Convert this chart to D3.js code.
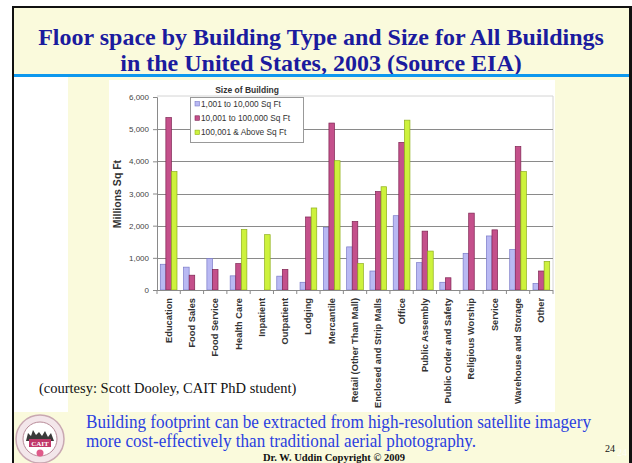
<!DOCTYPE html>
<html>
<head>
<meta charset="utf-8">
<script src="https://cdn.jsdelivr.net/npm/d3@7"></script>
<style>
  html, body { margin: 0; padding: 0; background: #ffffff; }
  svg { display: block; }
</style>
</head>
<body>
<div id="slide"></div>
<script>
// Building types (x categories)
const categories = [
  "Education", "Food Sales", "Food Service", "Health Care", "Inpatient",
  "Outpatient", "Lodging", "Mercantile", "Retail (Other Than Mall)",
  "Enclosed and Strip Malls", "Office", "Public Assembly",
  "Public Order and Safety", "Religious Worship", "Service",
  "Warehouse and Storage", "Other"
];

// Size classes (legend)
const seriesNames = ["1,001 to 10,000 Sq Ft", "10,001 to 100,000 Sq Ft", "100,001 & Above Sq Ft"];

// Floor space, millions of square feet
const smallBuildings  = [800, 710, 980, 440, 0, 430, 240, 1940, 1340, 590, 2310, 850, 240, 1140, 1680, 1260, 200];
const mediumBuildings = [5360, 460, 640, 820, 0, 640, 2270, 5190, 2130, 3060, 4590, 1830, 380, 2390, 1870, 4460, 590];
const largeBuildings  = [3680, 0, 0, 1880, 1720, 0, 2550, 4020, 820, 3210, 5280, 1210, 0, 0, 0, 3680, 890];

// Y axis ticks
const yTicks = [0, 1000, 2000, 3000, 4000, 5000, 6000];

const seriesValues = [smallBuildings, mediumBuildings, largeBuildings];
const fills   = ["#b9b9f3", "#c4508b", "#cdf23c"];
const strokes = ["#7a7ac8", "#7e2452", "#8fae1c"];

const W = 632, H = 463;
const svg = d3.select("#slide").append("svg").attr("width", W).attr("height", H);

// ---- slide frame ----
svg.append("rect").attr("x", 0).attr("y", 0).attr("width", W).attr("height", H).attr("fill", "#ffffff");
svg.append("rect").attr("x", 13).attr("y", 7).attr("width", 617).attr("height", H - 7).attr("fill", "#fafadc");
svg.append("rect").attr("x", 12).attr("y", 6).attr("width", 620).attr("height", 2).attr("fill", "#111");
svg.append("rect").attr("x", 12).attr("y", 6).attr("width", 2).attr("height", H - 6).attr("fill", "#111");
svg.append("rect").attr("x", 629).attr("y", 6).attr("width", 3).attr("height", H - 6).attr("fill", "#111");

// white panels behind caption and chart
svg.append("rect").attr("x", 14).attr("y", 77).attr("width", 54).attr("height", 335).attr("fill", "#ffffff");
svg.append("rect").attr("x", 109).attr("y", 80).attr("width", 446).attr("height", 332).attr("fill", "#ffffff");

// the chart is cropped to its white panel
svg.append("defs").append("clipPath").attr("id", "panel-clip")
  .append("rect").attr("x", 109).attr("y", 80).attr("width", 446).attr("height", 332);

// title
const title = svg.append("g")
  .attr("font-family", "'Liberation Serif', 'Times New Roman', serif")
  .attr("font-weight", "bold")
  .attr("font-size", 24)
  .attr("fill", "#1b1b9e")
  .attr("text-anchor", "middle");
title.append("text").attr("x", 321).attr("y", 45).text("Floor space by Building Type and Size for All Buildings");
title.append("text").attr("x", 321).attr("y", 71).text("in the United States, 2003 (Source EIA)");

// blue rule under the title
svg.append("rect").attr("x", 14).attr("y", 74).attr("width", 615).attr("height", 3).attr("fill", "#0e98ee");

// ---- chart ----
const plot = { left: 157, right: 553, top: 96, bottom: 290 };

const x0 = d3.scaleBand().domain(categories).range([plot.left, plot.right]).padding(0);
const x1 = d3.scaleBand().domain(d3.range(seriesValues.length))
  .range([3.3, x0.bandwidth() - 3.3]).padding(0);
const y = d3.scaleLinear().domain([0, 6000]).range([plot.bottom, plot.top + 1]);

const chart = svg.append("g").attr("clip-path", "url(#panel-clip)");

// plot border (top/right)
chart.append("path")
  .attr("d", `M${plot.left},${plot.top}H${plot.right}V${plot.bottom}`)
  .attr("fill", "none").attr("stroke", "#d4d4d4").attr("stroke-width", 1);

// gridlines
chart.append("g").selectAll("line")
  .data(yTicks.filter(d => d > 0 && d < 6000))
  .join("line")
  .attr("x1", plot.left).attr("x2", plot.right)
  .attr("y1", d => Math.round(y(d)) + 0.5).attr("y2", d => Math.round(y(d)) + 0.5)
  .attr("stroke", "#8a8a8a").attr("stroke-width", 1);

// bars
const groups = chart.append("g").selectAll("g")
  .data(categories)
  .join("g")
  .attr("transform", d => `translate(${x0(d)},0)`);

groups.selectAll("rect")
  .data((d, i) => seriesValues.map((vals, s) => ({ s, v: vals[i] })))
  .join("rect")
  .filter(d => d.v > 0)
  .attr("x", d => x1(d.s))
  .attr("y", d => y(d.v))
  .attr("width", x1.bandwidth())
  .attr("height", d => y(0) - y(d.v))
  .attr("fill", d => fills[d.s])
  .attr("stroke", d => strokes[d.s])
  .attr("stroke-width", 0.7);

// y axis
const yAxis = d3.axisLeft(y).tickValues(yTicks).tickSize(4).tickPadding(4)
  .tickFormat(d3.format(","));
const yg = chart.append("g").attr("transform", `translate(${plot.left},0)`).call(yAxis);
yg.select(".domain").attr("stroke", "#8a8a8a");
yg.selectAll(".tick line").attr("stroke", "#8a8a8a");
yg.selectAll("text")
  .attr("font-family", "'Liberation Sans', Arial, sans-serif")
  .attr("font-size", 8).attr("fill", "#444");

// x axis baseline with category boundary ticks
const xg = chart.append("g").attr("transform", `translate(0,${plot.bottom})`);
xg.append("line").attr("x1", plot.left).attr("x2", plot.right).attr("y1", 0.5).attr("y2", 0.5)
  .attr("stroke", "#8a8a8a");
xg.selectAll("line.tk")
  .data(categories.concat(["end"]))
  .join("line").attr("class", "tk")
  .attr("x1", (d, i) => plot.left + i * x0.step())
  .attr("x2", (d, i) => plot.left + i * x0.step())
  .attr("y1", 0).attr("y2", 4).attr("stroke", "#8a8a8a");

// rotated category labels
xg.selectAll("text")
  .data(categories)
  .join("text")
  .attr("transform", d => `translate(${x0(d) + x0.bandwidth() / 2 + 3},8) rotate(-90)`)
  .attr("text-anchor", "end")
  .attr("font-family", "'Liberation Sans', Arial, sans-serif")
  .attr("font-size", 9.3).attr("font-weight", "bold").attr("fill", "#333")
  .text(d => d);

// y axis title
chart.append("text")
  .attr("transform", `translate(121,194) rotate(-90)`)
  .attr("text-anchor", "middle")
  .attr("font-family", "'Liberation Sans', Arial, sans-serif")
  .attr("font-size", 10.5).attr("font-weight", "bold").attr("fill", "#333")
  .text("Millions Sq Ft");

// legend
const legend = chart.append("g").attr("font-family", "'Liberation Sans', Arial, sans-serif");
legend.append("text").attr("x", 247).attr("y", 93).attr("text-anchor", "middle")
  .attr("font-size", 8.5).attr("font-weight", "bold").attr("fill", "#333")
  .text("Size of Building");
legend.append("rect").attr("x", 190.5).attr("y", 97.5).attr("width", 113).attr("height", 45)
  .attr("fill", "#ffffff").attr("stroke", "#999");
const items = legend.selectAll("g.item").data(seriesNames).join("g").attr("class", "item")
  .attr("transform", (d, i) => `translate(195,${106 + i * 14.3})`);
items.append("rect").attr("x", 0).attr("y", -4.5).attr("width", 4.5).attr("height", 4.5)
  .attr("fill", (d, i) => fills[i]).attr("stroke", (d, i) => strokes[i]).attr("stroke-width", 0.6);
items.append("text").attr("x", 6).attr("y", 0.5).attr("font-size", 8.3).attr("fill", "#333").text(d => d);

// ---- captions ----
const serif = "'Liberation Serif', 'Times New Roman', serif";
svg.append("text").attr("x", 39).attr("y", 393)
  .attr("font-family", serif).attr("font-size", 14.5).attr("fill", "#111")
  .text("(courtesy: Scott Dooley, CAIT PhD student)");

const note = svg.append("g").attr("font-family", serif).attr("font-size", 18).attr("fill", "#2b3fe0");
note.append("text").attr("x", 86).attr("y", 428)
  .attr("textLength", 505).attr("lengthAdjust", "spacingAndGlyphs")
  .text("Building footprint can be extracted from high-resolution satellite imagery");
note.append("text").attr("x", 86).attr("y", 447)
  .attr("textLength", 390).attr("lengthAdjust", "spacingAndGlyphs")
  .text("more cost-effectively than traditional aerial photography.");

svg.append("text").attr("x", 263).attr("y", 461)
  .attr("font-family", serif).attr("font-size", 10.5).attr("font-weight", "bold").attr("fill", "#111")
  .text("Dr. W. Uddin  Copyright \u00A9 2009");
svg.append("text").attr("x", 605).attr("y", 452)
  .attr("font-family", serif).attr("font-size", 10).attr("fill", "#111").text("24");
svg.append("text").attr("x", 617).attr("y", 456)
  .attr("font-family", serif).attr("font-size", 10).attr("fill", "#ffffff").attr("opacity", 0.8).text("24");

// ---- CAIT emblem ----
const logo = svg.append("g").attr("transform", "translate(40,439)");
logo.append("circle").attr("r", 24).attr("fill", "#f3e6ea").attr("stroke", "#c9a8b2").attr("stroke-width", 1.5);
logo.append("circle").attr("r", 17).attr("fill", "#ffffff").attr("stroke", "#b78a98").attr("stroke-width", 1);
logo.append("path").attr("d", "M-14,2 L-12,-6 L-9,-3 L-7,-9 L-4,-4 L-1,-7 L2,-3 L5,-8 L8,-2 L11,-6 L14,2 Z")
  .attr("fill", "#3a3a3a");
logo.append("rect").attr("x", -11).attr("y", 0).attr("width", 22).attr("height", 8).attr("fill", "#c0386a");
logo.append("text").attr("x", 0).attr("y", 6.5).attr("text-anchor", "middle")
  .attr("font-family", serif).attr("font-size", 7).attr("font-weight", "bold").attr("fill", "#ffffff").text("CAIT");
logo.append("circle").attr("cy", 14).attr("r", 3.5).attr("fill", "#e05a8a");
</script>
</body>
</html>
